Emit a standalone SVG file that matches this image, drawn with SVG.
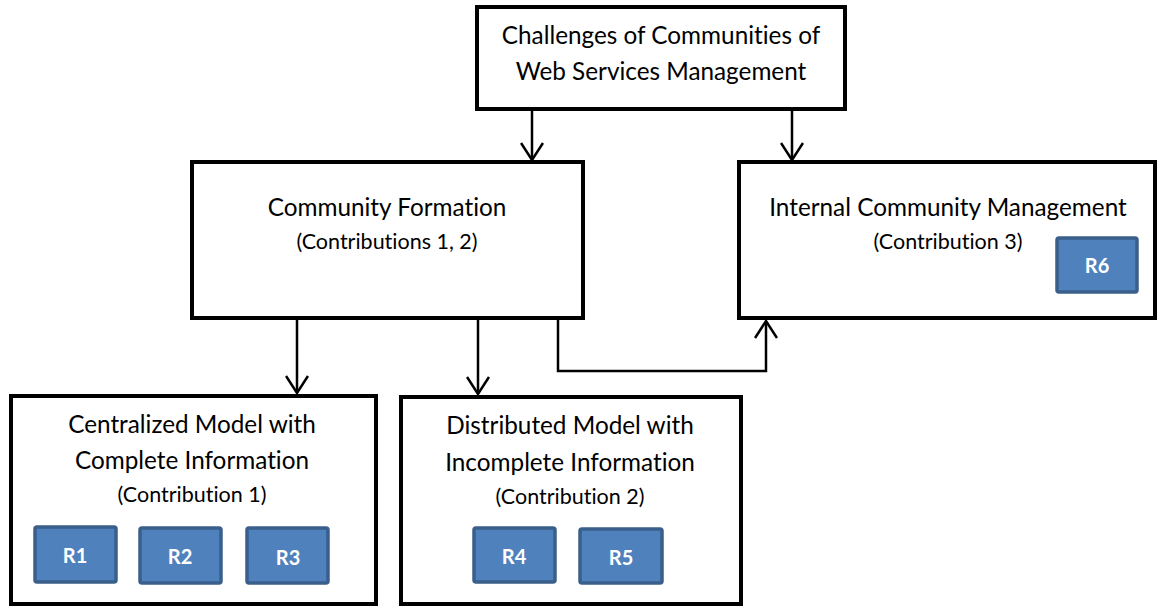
<svg xmlns="http://www.w3.org/2000/svg" width="1157" height="607" viewBox="0 0 1157 607">
<defs>
<style>
text{font-family:Lato,"Open Sans","Liberation Sans",sans-serif;font-variant-ligatures:none;text-anchor:middle}
.box{fill:#fff;stroke:#000;stroke-width:4}
.t{font-size:24.3px;fill:#000}
.s{font-size:21.5px;fill:#000}
.r{fill:#4F81BD;stroke:#3A5F8B;stroke-width:3.5}
.rt{font-size:20px;font-weight:bold;fill:#fff}
.c{fill:none;stroke:#000;stroke-width:2.5}
</style>
<marker id="arr" viewBox="0 0 22 24" refX="20" refY="12" markerWidth="22" markerHeight="24" markerUnits="userSpaceOnUse" orient="auto">
<path d="M3 1 L20 12 L3 23" fill="none" stroke="#000" stroke-width="2.5"/>
</marker>
</defs>
<g id="connectors">
<path class="c" d="M532 109 V160" marker-end="url(#arr)"/>
<path class="c" d="M792 109 V160" marker-end="url(#arr)"/>
<path class="c" d="M297 318 V393" marker-end="url(#arr)"/>
<path class="c" d="M478 318 V394" marker-end="url(#arr)"/>
<path class="c" d="M558 318 V371 H766 V321" marker-end="url(#arr)"/>
</g>
<g id="challenges">
<rect class="box" x="477" y="7" width="368" height="102"/>
<text class="t" x="661" y="44">Challenges of Communities of</text>
<text class="t" x="661" y="80">Web Services Management</text>
</g>
<g id="formation">
<rect class="box" x="192" y="162" width="391" height="156"/>
<text class="t" x="387" y="216">Community Formation</text>
<text class="s" x="387" y="249">(Contributions 1, 2)</text>
</g>
<g id="internal">
<rect class="box" x="739" y="162" width="416" height="156"/>
<text class="t" x="948" y="216">Internal Community Management</text>
<text class="s" x="948" y="249">(Contribution 3)</text>
<g id="r6"><rect class="r" x="1057" y="238" width="80" height="54" rx="2"/><text class="rt" x="1097" y="273">R6</text></g>
</g>
<g id="centralized">
<rect class="box" x="11" y="396" width="365" height="208"/>
<text class="t" x="192" y="433">Centralized Model with</text>
<text class="t" x="192" y="469">Complete Information</text>
<text class="s" x="192" y="502">(Contribution 1)</text>
<g id="r1"><rect class="r" x="35" y="527" width="81" height="55" rx="2"/><text class="rt" x="75" y="563">R1</text></g>
<g id="r2"><rect class="r" x="140" y="528" width="81" height="55" rx="2"/><text class="rt" x="180" y="564">R2</text></g>
<g id="r3"><rect class="r" x="247" y="528" width="81" height="55" rx="2"/><text class="rt" x="288" y="565">R3</text></g>
</g>
<g id="distributed">
<rect class="box" x="401" y="397" width="340" height="207"/>
<text class="t" x="570" y="434">Distributed Model with</text>
<text class="t" x="570" y="471">Incomplete Information</text>
<text class="s" x="570" y="504">(Contribution 2)</text>
<g id="r4"><rect class="r" x="474" y="528" width="81" height="54" rx="2"/><text class="rt" x="514" y="564">R4</text></g>
<g id="r5"><rect class="r" x="580" y="529" width="82" height="54" rx="2"/><text class="rt" x="621" y="565">R5</text></g>
</g>
</svg>
